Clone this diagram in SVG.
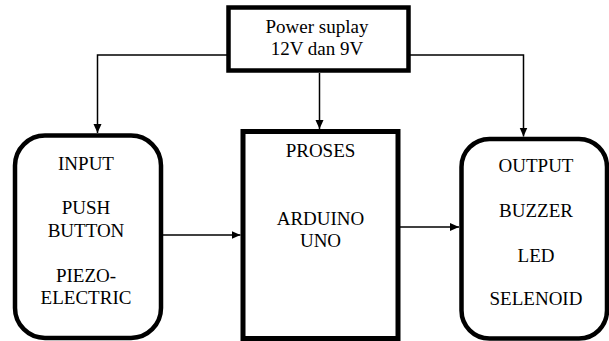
<svg xmlns="http://www.w3.org/2000/svg" width="609" height="341" viewBox="0 0 609 341">
<defs>
<style>
.box{fill:#fff;stroke:#000;stroke-width:4.5}
.t{font-family:'Liberation Serif','DejaVu Serif',serif;font-size:19px;fill:#000;text-anchor:middle}
.c{fill:none;stroke:#000;stroke-width:1.5}
</style>
<marker id="ah" markerWidth="10" markerHeight="10" refX="9" refY="5" orient="auto" markerUnits="userSpaceOnUse">
<path d="M0,1 L9,5 L0,9 Z" fill="#000"/>
</marker>
</defs>
<rect width="609" height="341" fill="#fff"/>
<g id="connectors">
<path class="c" d="M228,55 H97.5 V133" marker-end="url(#ah)"/>
<path class="c" d="M319.5,73 V129" marker-end="url(#ah)"/>
<path class="c" d="M409,55 H523.5 V136.5" marker-end="url(#ah)"/>
<path class="c" d="M163,235 H240.5" marker-end="url(#ah)"/>
<path class="c" d="M400,227 H459" marker-end="url(#ah)"/>
</g>
<g id="power">
<rect class="box" x="228.5" y="7.5" width="180" height="63"/>
<text class="t" x="317" y="33" font-family="Liberation Serif">Power suplay</text>
<text class="t" x="317" y="55" font-family="Liberation Serif">12V dan 9V</text>
</g>
<g id="input">
<rect class="box" x="15" y="135.5" width="146" height="202.5" rx="30" ry="30"/>
<text class="t" x="86" y="170">INPUT</text>
<text class="t" x="86" y="214">PUSH</text>
<text class="t" x="86" y="236.5">BUTTON</text>
<text class="t" x="86" y="281.5">PIEZO-</text>
<text class="t" x="86" y="303.5">ELECTRIC</text>
</g>
<g id="proses">
<rect class="box" x="243" y="131.5" width="155" height="207" style="stroke-width:5"/>
<text class="t" x="320.5" y="157">PROSES</text>
<text class="t" x="320.5" y="225">ARDUINO</text>
<text class="t" x="320.5" y="246.5">UNO</text>
</g>
<g id="output">
<rect class="box" x="461.5" y="139" width="145.5" height="199.5" rx="28" ry="28"/>
<text class="t" x="536" y="172">OUTPUT</text>
<text class="t" x="536" y="217">BUZZER</text>
<text class="t" x="536" y="262">LED</text>
<text class="t" x="536" y="305">SELENOID</text>
</g>
</svg>
